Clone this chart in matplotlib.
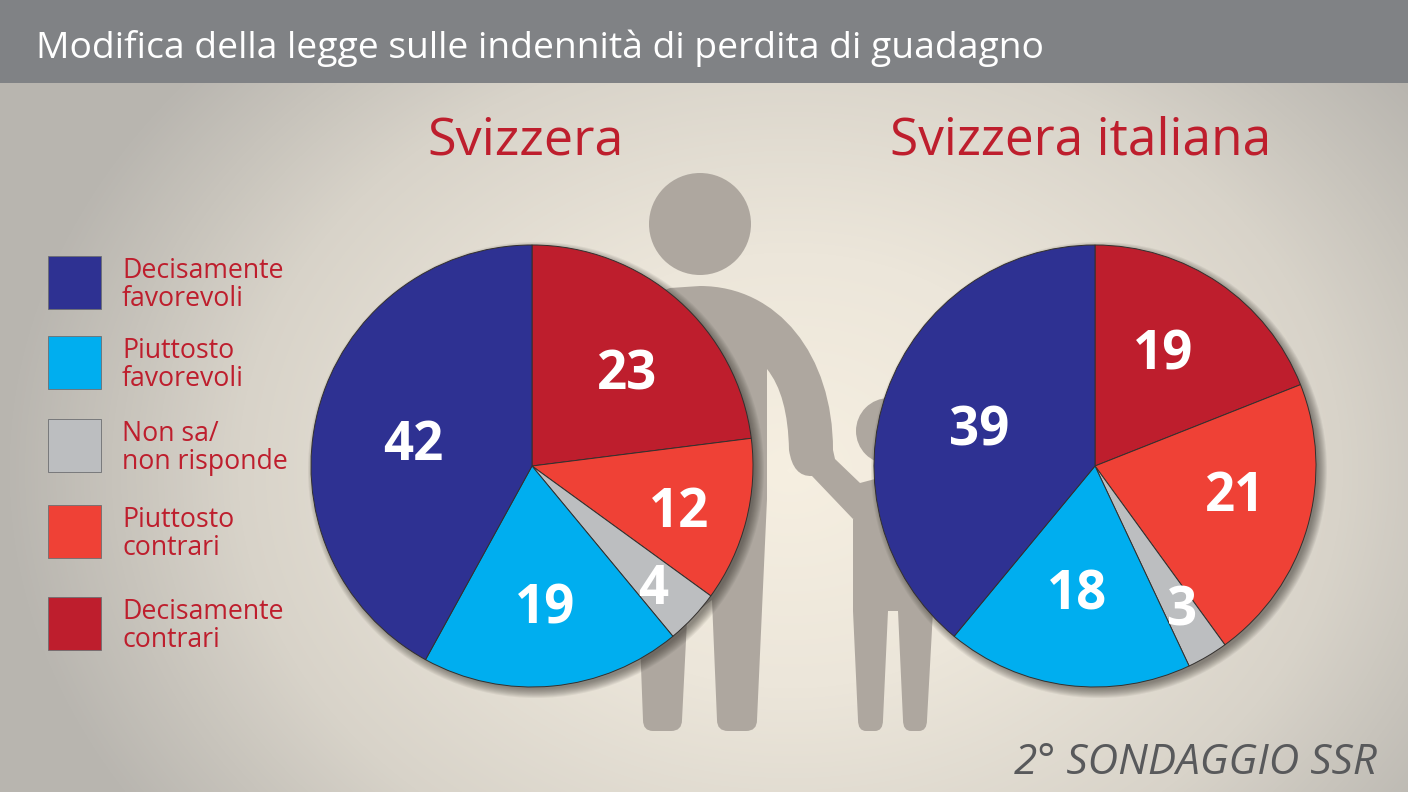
import matplotlib
matplotlib.use("Agg")
import matplotlib.pyplot as plt
import numpy as np
from matplotlib.colors import LinearSegmentedColormap
from matplotlib.patches import Circle, PathPatch, Rectangle
from matplotlib.path import Path

W, H = 1408, 792
FONT = "Open Sans"

TITLE = "Modifica della legge sulle indennità di perdita di guadagno"
FOOTER = "2° SONDAGGIO SSR"

# answers, in clockwise order from 12 o'clock
categories = ["Decisamente\ncontrari", "Piuttosto\ncontrari", "Non sa/\nnon risponde",
              "Piuttosto\nfavorevoli", "Decisamente\nfavorevoli"]
colors = ["#BE1E2D", "#EF4136", "#BCBEC0", "#00AEEF", "#2E3192"]
svizzera = [23, 12, 4, 19, 42]
svizzera_it = [19, 21, 3, 18, 39]

legend_order = [4, 3, 2, 1, 0]
legend_y = [256, 336, 419, 505, 597]

label_pos_ch = [(627, 371), (679, 508), (653, 585), (545, 605), (413, 441)]
label_pos_it = [(1163, 350), (1235, 492), (1182, 606), (1077, 590), (979, 427)]

RED = "#BE1E2D"
FIGURE = "#aea79f"
RADIUS = 221


def draw_background(ax):
    x, y = np.meshgrid(np.arange(W), np.arange(H))
    d = np.sqrt(((x - 790) / 790) ** 2 + ((y - 470) / 620) ** 2)
    cmap = LinearSegmentedColormap.from_list(
        "bg", [(0, "#f6efe1"), (0.35, "#ece6da"), (0.7, "#d8d3c9"), (1, "#b8b5af")]
    )
    ax.imshow(np.clip(d, 0, 1), cmap=cmap, vmin=0, vmax=1, extent=(0, W, H, 0),
              aspect="auto", zorder=0)


def draw_people(ax):
    ax.add_patch(Circle((700, 224), 51, color=FIGURE, lw=0, zorder=1))
    ax.add_patch(Circle((889, 431), 33, color=FIGURE, lw=0, zorder=1))
    M, L, C, C4 = Path.MOVETO, Path.LINETO, Path.CURVE3, Path.CURVE4
    adult = [
        ((640, 300), M), ((670, 288), L), ((700, 286), L),
        ((778, 286), C4), ((833, 355), C4), ((833, 450), C4),
        ((835, 459), L), ((860, 483), L), ((875, 479), L),
        ((880, 500), L), ((853, 519), L), ((812, 476), L),
        ((793, 477), C), ((789, 450), C),
        ((788, 395), C), ((767, 369), C),
        ((767, 499), L), ((757, 720), L), ((757, 731), C), ((746, 731), C),
        ((728, 731), L), ((717, 731), C), ((717, 720), C),
        ((712, 600), L), ((687, 620), L), ((682, 720), L), ((682, 731), C), ((671, 731), C),
        ((653, 731), L), ((643, 731), C), ((643, 720), C), ((640, 640), L), ((640, 300), L),
    ]
    child = [
        ((853, 519), M), ((853, 611), L), ((858, 720), L), ((858, 731), C), ((866, 731), C),
        ((875, 731), L), ((883, 731), C), ((883, 720), C), ((888, 611), L), ((898, 611), L),
        ((903, 720), L), ((903, 731), C), ((911, 731), C), ((919, 731), L), ((927, 731), C),
        ((927, 720), C), ((933, 611), L), ((933, 500), L), ((875, 479), L), ((853, 519), L),
    ]
    for shape in (adult, child):
        verts, codes = zip(*shape)
        ax.add_patch(PathPatch(Path(verts, codes), facecolor=FIGURE, lw=0, zorder=1))


def draw_legend(ax):
    for i, top in zip(legend_order, legend_y):
        ax.add_patch(Rectangle((48, top), 53, 53, facecolor=colors[i],
                               edgecolor="#6d6e71", lw=0.6, zorder=2))
        ax.text(122, top + 29, categories[i], color=RED, fontsize=19.2, family=FONT,
                va="center", ha="left", linespacing=1.03, zorder=2)


def draw_pie(fig, bg, values, center, label_pos):
    cx, cy = center
    # soft shadow down to the right of the disc
    for grow in range(0, 10):
        bg.add_patch(Circle((cx + 4, cy + 4), RADIUS + 7 - grow, color="#3a3630",
                            alpha=0.07, lw=0, zorder=3))
    pad = RADIUS * 1.02
    ax = fig.add_axes([(cx - pad) / W, 1 - (cy + pad) / H, 2 * pad / W, 2 * pad / H])
    ax.pie(values, colors=colors, startangle=90, counterclock=False,
           wedgeprops={"edgecolor": "#33302e", "linewidth": 0.7})
    ax.set_xlim(-1.02, 1.02)
    ax.set_ylim(-1.02, 1.02)
    ax.axis("off")
    for v, (x, y) in zip(values, label_pos):
        ax.text(x, y + 5, str(v), transform=bg.transData, color="white", fontsize=38,
                fontweight="bold", family=FONT, ha="center", va="center", zorder=5)


fig = plt.figure(figsize=(W / 100, H / 100), dpi=100)
bg = fig.add_axes([0, 0, 1, 1])
draw_background(bg)
bg.set_xlim(0, W)
bg.set_ylim(H, 0)
bg.axis("off")

bg.add_patch(Rectangle((0, 0), W, 83, facecolor="#808285", lw=0, zorder=2))
bg.text(36, 48, TITLE, color="white", fontsize=26.8, family=FONT, va="center", zorder=3)

bg.text(526, 141, "Svizzera", color=RED, fontsize=37.5, family=FONT, ha="center", va="center")
bg.text(1081, 141, "Svizzera italiana", color=RED, fontsize=37, family=FONT, ha="center", va="center")

draw_people(bg)
draw_legend(bg)
draw_pie(fig, bg, svizzera, (532, 466), label_pos_ch)
draw_pie(fig, bg, svizzera_it, (1095, 466), label_pos_it)

bg.text(1377, 763, FOOTER, color="#58595b", fontsize=30.4, family=FONT, style="italic",
        ha="right", va="center", zorder=3)

fig.savefig("out.png", dpi=100)
